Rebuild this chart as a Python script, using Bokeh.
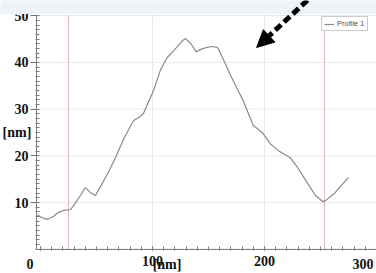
from bokeh.plotting import figure
from bokeh.models import (Label, BoxAnnotation, Arrow, NormalHead, Range1d, FixedTicker)
from bokeh.embed import file_html
from bokeh.resources import INLINE

# ---- data ----
profile_x = [-2.7, 0.9, 6.3, 11.6, 16, 20.5, 26.8, 31, 35.7, 40, 44.6, 49, 53.6, 60,
             67, 74, 83, 89, 92, 101, 107, 113, 119, 127, 129.5, 134, 139, 145.5,
             152, 158, 161.6, 170.5, 181, 190, 198, 205, 212.5, 223, 229.5, 238,
             245.5, 252, 254.5, 263, 275]
profile_y = [7.4, 6.8, 6.4, 7.0, 7.9, 8.3, 8.5, 9.8, 11.5, 13.2, 12.1, 11.5, 13.4, 16.2,
             19.6, 23.5, 27.5, 28.4, 29.1, 34, 38.3, 41, 42.5, 44.7, 45.1, 44.1, 42.3,
             43, 43.4, 43.2, 41.5, 36.8, 31.8, 26.5, 25, 22.6, 21.1, 19.6, 17.5, 14.3,
             11.5, 10.2, 10.4, 12.1, 15.4]
cursor_x = [25, 253.6]
x_ticks = [0, 100, 200, 300]
x_minor = list(range(0, 301, 10))
y_ticks = [10, 20, 30, 40, 50]
y_minor = list(range(0, 51, 1))
series_name = "Profile 1"
unit_label = "[nm]"

X0, X1 = -3.6, 300      # plotting area extent (data)
Y0, Y1 = 0, 50

TICK_FONT = "Liberation Serif"
AX = "#6f6f6f"

p = figure(width=376, height=273, x_range=Range1d(-35.7, 300), y_range=Range1d(-5.2, 53.25),
           output_backend="svg", toolbar_location=None,
           min_border_left=0, min_border_right=0, min_border_top=0, min_border_bottom=0)
p.background_fill_color = "white"
p.border_fill_color = "white"
p.outline_line_color = None
p.grid.visible = False

# top band
p.add_layout(BoxAnnotation(bottom=50.35, top=60, left=-50, right=400,
                           fill_color="#eef3f9", fill_alpha=1, line_color=None))

# grid lines within the plotting area
p.segment(x0=x_ticks[1:-1], y0=Y0, x1=x_ticks[1:-1], y1=Y1, line_color="#f0e5e9", line_width=1)
p.segment(x0=X0, y0=y_ticks[:-1], x1=X1, y1=y_ticks[:-1], line_color="#ece8ea", line_width=1)

# frame
p.add_layout(BoxAnnotation(left=X0, right=X1, bottom=Y0, top=Y1, fill_alpha=0,
                           line_color="#9a9a9a", line_width=1))

# axes at fixed locations
p.xaxis.fixed_location = Y0
p.yaxis.fixed_location = X0
p.xaxis.bounds = (X0, X1)
p.yaxis.bounds = (Y0, Y1)
p.xaxis.ticker = FixedTicker(ticks=x_ticks, minor_ticks=x_minor)
p.yaxis.ticker = FixedTicker(ticks=y_ticks, minor_ticks=y_minor)
p.xaxis.major_label_overrides = {x_ticks[0]: "", x_ticks[-1]: ""}
for ax in (p.xaxis, p.yaxis):
    ax.axis_line_color = AX
    ax.major_tick_line_color = AX
    ax.minor_tick_line_color = "#7a7a7a"
    ax.major_label_text_font = TICK_FONT
    ax.major_label_text_font_style = "bold"
    ax.major_label_text_font_size = "14px"
    ax.major_label_text_color = "#111111"
p.xaxis.major_tick_in = 3
p.xaxis.major_tick_out = 1
p.xaxis.minor_tick_in = 3
p.xaxis.minor_tick_out = 1
p.xaxis.major_label_standoff = 6
p.yaxis.major_tick_in = 0
p.yaxis.major_tick_out = 6
p.yaxis.minor_tick_in = 3
p.yaxis.minor_tick_out = 1
p.yaxis.major_label_standoff = 2

# cursors
for cx in cursor_x:
    p.segment(x0=cx, y0=Y0, x1=cx, y1=Y1, line_color="#e3b8bf", line_width=1.1)

# profile line
p.line(profile_x, profile_y, line_color="#8a8a8a", line_width=1.2, legend_label=series_name)

label_style = dict(text_font=TICK_FONT, text_font_style="bold", text_font_size="14px",
                   text_color="#111111", text_baseline="middle")
# edge tick labels
p.add_layout(Label(x=x_ticks[0], y=-3.06, x_offset=-7, text=str(x_ticks[0]),
                   text_align="right", **label_style))
p.add_layout(Label(x=x_ticks[-1], y=-3.06, x_offset=-3, text=str(x_ticks[-1]),
                   text_align="right", **label_style))
# axis unit labels
p.add_layout(Label(x=113, y=-3.34, text=unit_label, text_align="center", **label_style))
p.add_layout(Label(x=-33.9, y=25.0, text=unit_label, text_align="left", **label_style))

# arrow
p.add_layout(Arrow(x_start=238.4, y_start=53.3, x_end=193, y_end=43.2,
                   line_width=5, line_dash="8 4", line_color="black",
                   end=NormalHead(size=17, fill_color="black", line_color="black")))

# legend
lg = p.legend[0]
lg.location = (321, 242)
lg.label_text_font = "Liberation Sans"
lg.label_text_font_size = "7.5px"
lg.label_text_color = "#555555"
lg.glyph_width = 10
lg.glyph_height = 8
lg.label_height = 8
lg.label_standoff = 3
lg.padding = 2
lg.margin = 0
lg.spacing = 0
lg.border_line_color = "#999999"
lg.background_fill_color = "white"
lg.background_fill_alpha = 1

open("out.html", "w").write(file_html(p, INLINE))
